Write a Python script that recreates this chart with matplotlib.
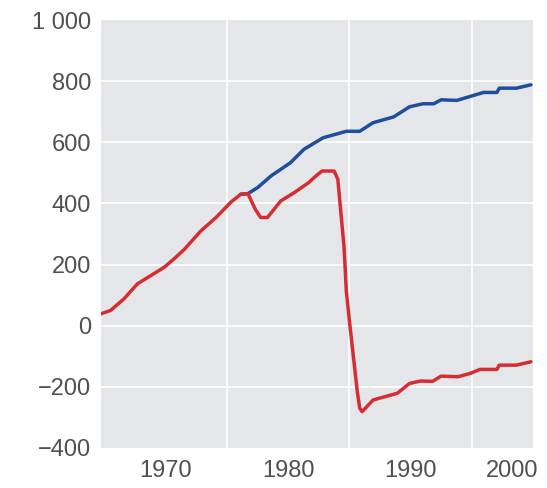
import matplotlib
matplotlib.use("Agg")
import matplotlib.pyplot as plt
from matplotlib.transforms import ScaledTranslation

# red series (whole period)
red_years = [1964.72, 1965.51, 1966.60, 1967.70, 1968.79, 1969.88, 1970.67, 1971.56, 1972.85,
             1974.14, 1975.33, 1976.13, 1976.72, 1977.32, 1977.76, 1978.31, 1979.40, 1980.49,
             1981.68, 1982.28, 1982.77, 1983.76, 1984.06, 1984.26, 1984.56, 1984.76, 1985.05,
             1985.35, 1985.65, 1985.85, 1986.05, 1986.94, 1988.92, 1989.91, 1990.81, 1991.80,
             1992.49, 1993.88, 1994.87, 1995.67, 1997.05, 1997.25, 1998.64, 1999.83]
red_values = [39, 50, 88, 137, 164, 191, 218, 251, 309,
              355, 404, 430, 432, 381, 354, 354, 408, 435,
              468, 490, 506, 506, 479, 392, 262, 111, 1,
              -107, -215, -270, -281, -243, -221, -189, -181, -182,
              -165, -167, -156, -143, -143, -129, -129, -118]

# blue series (from the split onwards)
blue_years = [1976.13, 1976.72, 1977.52, 1978.61, 1980.19, 1981.29, 1982.87, 1984.76, 1985.85,
              1986.94, 1988.62, 1989.91, 1991.01, 1991.90, 1992.49, 1993.78, 1994.87, 1995.96,
              1997.05, 1997.25, 1998.64, 1999.83]
blue_values = [430, 432, 452, 490, 533, 577, 615, 636, 636,
               664, 683, 716, 726, 726, 739, 737, 750, 763,
               763, 777, 777, 788]

x_ticks = [1970, 1980, 1990, 2000]
x_grid = [1975, 1985, 1995]
y_ticks = [-400, -200, 0, 200, 400, 600, 800, 1000]
y_labels = ["\u2212400", "\u2212200", "0", "200", "400", "600", "800", "1 000"]

plt.rcParams["font.family"] = ["Liberation Sans", "DejaVu Sans"]

fig = plt.figure(figsize=(5.47, 4.88), dpi=100)
ax = fig.add_axes([0.1846, 0.082, 0.7898, 0.877])
ax.set_facecolor("#e4e6e9")

ax.plot(blue_years, blue_values, color="#1f4e9c", lw=2.5, solid_capstyle="round", zorder=3)
ax.plot(red_years, red_values, color="#d42e33", lw=2.5, solid_capstyle="round", zorder=4)

ax.set_xlim(1964.72, 2000.0)
ax.set_ylim(-400, 1000)
ax.set_xticks(x_ticks)
ax.set_yticks(y_ticks)
ax.set_yticklabels(y_labels)
ax.grid(False)
for g in x_grid:
    ax.axvline(g, color="white", lw=1.2, zorder=1)
for v in y_ticks[1:-1]:
    ax.axhline(v, color="white", lw=1.2, zorder=1)

for s in ax.spines.values():
    s.set_visible(False)
ax.tick_params(axis="both", which="both", length=0, labelsize=17, labelcolor="#505050")
ax.tick_params(axis="y", pad=7)
ax.tick_params(axis="x", pad=9)

# last year label sits inside the figure edge
last = ax.get_xticklabels()[-1]
last.set_horizontalalignment("right")
last.set_transform(last.get_transform() + ScaledTranslation(4 / 72, 0, fig.dpi_scale_trans))

fig.savefig("out.png", dpi=100)
